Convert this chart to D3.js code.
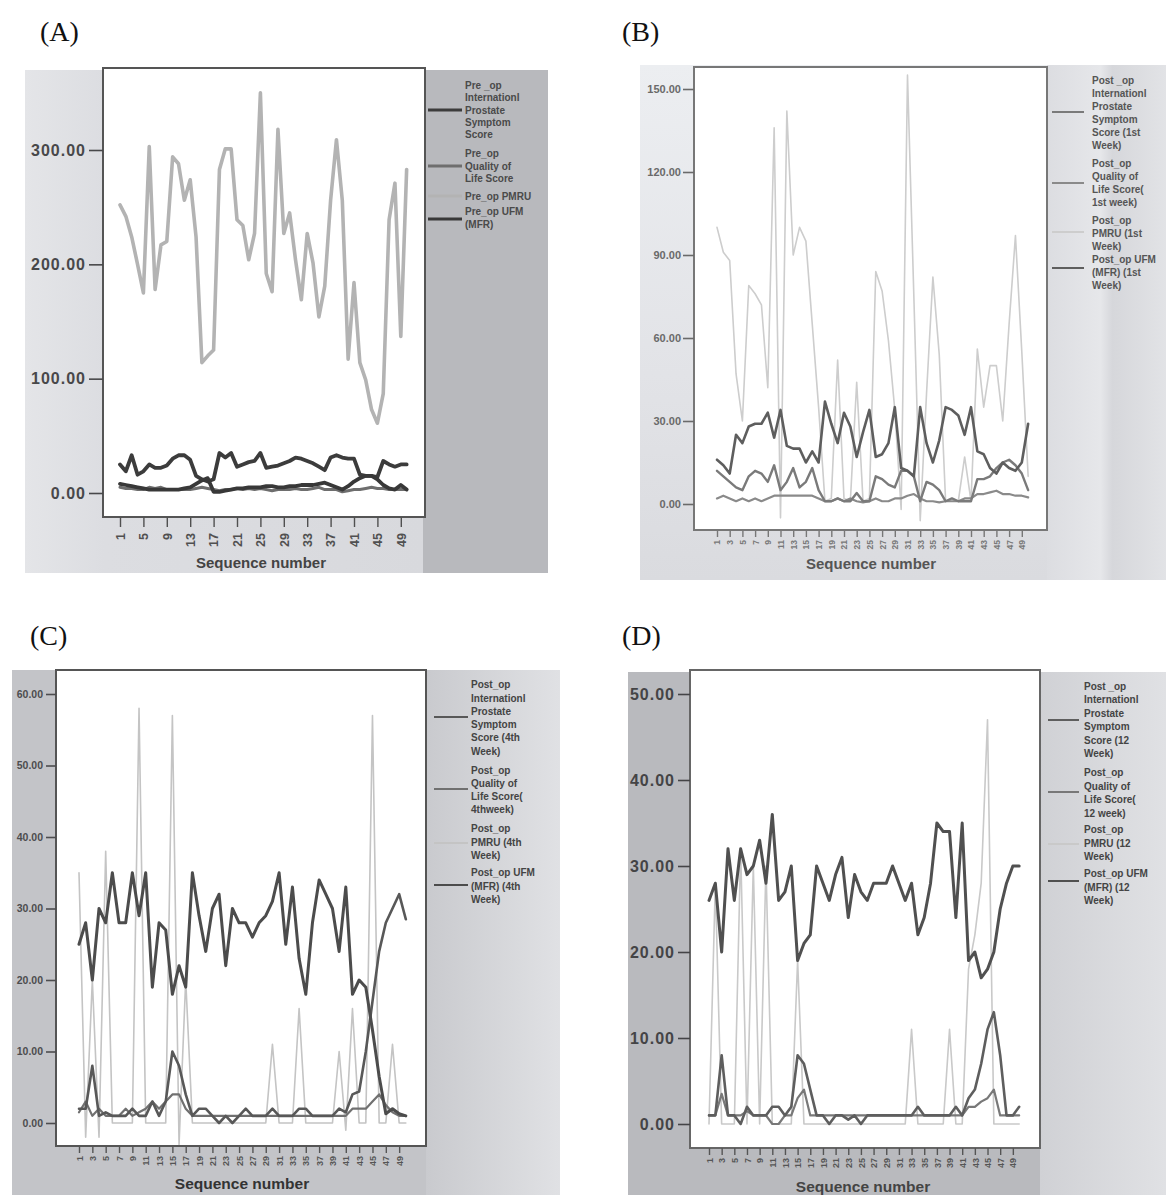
<!DOCTYPE html>
<html>
<head>
<meta charset="utf-8">
<script src="https://cdn.jsdelivr.net/npm/d3@7"></script>
<style>
  html, body { margin: 0; padding: 0; background: #fff; }
  svg { display: block; }
  text { font-family: "Liberation Sans", Arial, sans-serif; }
</style>
</head>
<body>
<svg id="chart" width="1166" height="1195"></svg>
<script>
// ---- shared categories and tick labels ----
const sequence = [1,2,3,4,5,6,7,8,9,10,11,12,13,14,15,16,17,18,19,20,21,22,23,24,25,
                  26,27,28,29,30,31,32,33,34,35,36,37,38,39,40,41,42,43,44,45,46,47,48,49,50];
const xTicksEvery4 = [1,5,9,13,17,21,25,29,33,37,41,45,49];
const xTicksEvery2 = [1,3,5,7,9,11,13,15,17,19,21,23,25,27,29,31,33,35,37,39,41,43,45,47,49];
const yTicksA = [0,100,200,300];
const yTicksB = [0,30,60,90,120,150];
const yTicksC = [0,10,20,30,40,50,60];
const yTicksD = [0,10,20,30,40,50];

// ---- (A) pre-operative ----
const ipssA = [25,19,33,16,19,25,22,22,24,30,33,33,29,15,12,10,12,35,31,35,23,25,27,28,35,22,23,24,26,28,31,30,28,26,23,20,31,33,31,30,30,16,15,15,14,28,25,23,25,25];
const qolA  = [5,4,4,3,3,5,4,5,3,3,3,3,3,4,5,4,3,2,3,3,4,3,4,3,4,3,2,3,3,3,4,3,3,4,5,3,3,3,1,2,3,3,4,5,4,4,3,3,3,3];
const pmruA = [252,242,224,200,175,303,178,217,220,294,288,256,274,224,114,120,125,283,301,301,239,234,204,227,350,192,176,318,227,245,204,169,227,201,154,181,256,309,256,117,184,114,99,73,61,87,239,271,137,283];
const ufmA  = [8,7,6,5,4,3,3,3,3,3,3,4,5,8,11,13,1,1,2,3,4,4,5,5,5,6,6,5,5,6,6,7,7,7,8,9,7,5,3,6,10,13,15,15,12,7,4,3,7,3];

// ---- (B) post-operative, 1st week ----
const ipssB = [12,10,8,6,5,10,12,11,8,14,5,8,13,6,8,13,5,1,1,2,1,1,4,1,1,10,9,7,6,12,12,10,1,8,7,5,1,2,1,1,1,9,9,10,13,15,16,14,11,5];
const qolB  = [2,3,2,1,2,1,2,1,2,3,3,3,3,3,3,3,2,1,1,2,1,2,1,0.6,1,2,1,1,2,2,3,3.6,2,1,1,0.6,1,1,1,2,2,3.6,3.6,4.2,4.8,3.6,3.6,3,3,2.4];
const pmruB = [100,91,88,47,30,79,76,72,42,136,-5,142,90,100,95,65,35,1,2,52,2,1,44,1,2,84,77,59,34,-2,155,75,-6,40,82,54,1,1,1,17,1,56,35,50,50,30,65,97,55,10];
const ufmB  = [16,14,11,25,22,28,29,29,33,24,34,21,20,20,15,19,15,37,29,22,33,28,17,26,34,17,18,22,35,13,12,10,35,22,15,23,35,34,32,25,35,19,18,13,11,15,13,12,15,29];

// ---- (C) post-operative, 4th week ----
const ipssC = [2,2,8,1,1.5,1,1,1,2,1,1,3,1,3,10,8,4,1,2,2,1,0,1,0,1,2,1,1,1,2,1,1,1,2,2,1,1,1,1,2,1.5,4,4.4,10,17,24,28,30,32,28.5];
const qolC  = [1.5,3,1,2,1,1,1,2,1,1.5,2,3,2,3,4,4,2,1,1,1,1,1,1,1,1,1,1,1,1,1,1,1,1,1,1,1,1,1,1,1,1,2,2,2,3,4,2.5,1.5,1,1];
const pmruC = [35,-2,20,-2,38,0,0,0,0,58,0,0,0,0,57,-3,20,0,0,0,0,0,0,0,0,0,0,0,0,11,0,0,0,16,0,0,0,0,0,10,-1,16,0,0,57,0,0,11,0,0];
const ufmC  = [25,28,20,30,28,35,28,28,35,29,35,19,28,27,18,22,19,35,29,24,30,32,22,30,28,28,26,28,29,31,35,25,33,23,18,28,34,32,30,24,33,18,20,19,13,6.5,1.3,2,1.3,1];

// ---- (D) post-operative, 12th week ----
const ipssD = [1,1,8,1,1,0,2,1,1,1,2,2,1,2,8,7,4,1,1,0,1,1,0.5,1,0,1,1,1,1,1,1,1,1,2,1,1,1,1,1,2,1,3,4,7,11,13,8,1,1,2];
const qolD  = [1,1,3.5,1,1,1,1.5,1,1,1,0,0,1,1,3,4,1,1,1,1,1,1,1,1,1,1,1,1,1,1,1,1,1,1,1,1,1,1,1,1,1,2,2,2.6,3,4,1,1,1,1];
const pmruD = [0,28,0,0,0,32,0,30,0,30,0,0,0,0,19,0,0,0,0,0,0,0,0,0,0,0,0,0,0,0,0,0,11,0,0,0,0,0,11,0,0,18,22,28,47,0,0,0,0,0];
const ufmD  = [26,28,20,32,26,32,29,30,33,28,36,26,27,30,19,21,22,30,28,26,29,31,24,29,27,26,28,28,28,30,28,26,28,22,24,28,35,34,34,24,35,19,20,17,18,20,25,28,30,30];

// ---- legend labels (IPSS, QoL, PMRU, UFM) ----
const legendA = [
  ["Pre _op","Internationl","Prostate","Symptom","Score"],
  ["Pre_op","Quality of","Life Score"],
  ["Pre_op PMRU"],
  ["Pre_op UFM","(MFR)"]
];
const legendB = [
  ["Post _op","Internationl","Prostate","Symptom","Score (1st","Week)"],
  ["Post_op","Quality of","Life Score(","1st week)"],
  ["Post_op","PMRU (1st","Week)"],
  ["Post_op UFM","(MFR) (1st","Week)"]
];
const legendC = [
  ["Post_op","Internationl","Prostate","Symptom","Score (4th","Week)"],
  ["Post_op","Quality of","Life Score(","4thweek)"],
  ["Post_op","PMRU (4th","Week)"],
  ["Post_op UFM","(MFR) (4th","Week)"]
];
const legendD = [
  ["Post _op","Internationl","Prostate","Symptom","Score (12","Week)"],
  ["Post_op","Quality of","Life Score(","12 week)"],
  ["Post_op","PMRU (12","Week)"],
  ["Post_op UFM","(MFR) (12","Week)"]
];
const xAxisTitle = "Sequence number";

// ---- panel layout ----
const panels = [
  {
    id: "A", title: "(A)", titleX: 40, titleY: 41,
    bgs: [
      {x: 25, y: 70, w: 398, h: 503, fill: "url(#bgA)"},
      {x: 423, y: 70, w: 125, h: 503, fill: "#b8b9bd"}
    ],
    frame: {x: 103, y: 68, w: 322, h: 449, stroke: "#555", sw: 2},
    xRange: [120, 406.65], yDomain: [0, 300], yRange: [493, 150],
    yTicks: yTicksA, xTicks: xTicksEvery4,
    yAxis: {size: 14, pad: 3, font: 16, color: "#48484a", ls: 1},
    xAxis: {size: 10, pad: 6, font: 12.5, color: "#505050"},
    xLabel: {x: 261, y: 568, font: 15, color: "#444"},
    series: [
      {v: pmruA, c: "#b3b3b3", w: 3.6},
      {v: qolA,  c: "#6e6e6e", w: 3},
      {v: ipssA, c: "#3c3c3c", w: 3.8},
      {v: ufmA,  c: "#383838", w: 3.8}
    ],
    legend: {x0: 428, x1: 462, tx: 465, lh: 12.3, font: 10, color: "#4a4a4a", lw: 3,
      labels: legendA, ys: [110, 166, 196, 218], lineYs: [110, 166, 196, 219],
      colors: ["#3c3c3c", "#6e6e6e", "#b3b3b3", "#383838"]}
  },
  {
    id: "B", title: "(B)", titleX: 622, titleY: 41,
    bgs: [
      {x: 640, y: 65, w: 407, h: 515, fill: "url(#bgB)"},
      {x: 1047, y: 65, w: 119, h: 515, fill: "url(#bgBl)"}
    ],
    frame: {x: 694, y: 67, w: 353, h: 463, stroke: "#777", sw: 2},
    xRange: [717, 1028.15], yDomain: [0, 150], yRange: [504, 89],
    yTicks: yTicksB, xTicks: xTicksEvery2,
    yAxis: {size: 11, pad: 2, font: 11, color: "#6a6a6a", ls: 0},
    xAxis: {size: 7, pad: 3, font: 8.5, color: "#777"},
    xLabel: {x: 871, y: 569, font: 15, color: "#555"},
    series: [
      {v: pmruB, c: "#cdcdcd", w: 1.6},
      {v: qolB,  c: "#8a8a8a", w: 2.2},
      {v: ipssB, c: "#7a7a7a", w: 2.4},
      {v: ufmB,  c: "#5e5e5e", w: 2.6}
    ],
    legend: {x0: 1052, x1: 1084, tx: 1092, lh: 13, font: 10, color: "#555", lw: 2,
      labels: legendB, ys: [113, 183, 233, 272], lineYs: [112, 183, 232, 268],
      colors: ["#7a7a7a", "#8a8a8a", "#cdcdcd", "#5e5e5e"]}
  },
  {
    id: "C", title: "(C)", titleX: 30, titleY: 645,
    bgs: [
      {x: 12, y: 670, w: 414, h: 525, fill: "#c3c4c8"},
      {x: 426, y: 670, w: 134, h: 525, fill: "url(#bgCl)"}
    ],
    frame: {x: 56, y: 670, w: 370, h: 476, stroke: "#555", sw: 2},
    xRange: [79, 405.83], yDomain: [0, 60], yRange: [1123, 694],
    yTicks: yTicksC, xTicks: xTicksEvery2,
    yAxis: {size: 10, pad: 3, font: 10.5, color: "#4d4d4f", ls: 0},
    xAxis: {size: 7, pad: 3, font: 9, color: "#555"},
    xLabel: {x: 242, y: 1189, font: 15.5, color: "#333"},
    series: [
      {v: pmruC, c: "#c4c4c4", w: 1.6},
      {v: qolC,  c: "#707070", w: 2.2},
      {v: ipssC, c: "#585858", w: 2.6},
      {v: ufmC,  c: "#4c4c4c", w: 3}
    ],
    legend: {x0: 434, x1: 468, tx: 471, lh: 13.3, font: 10, color: "#444", lw: 2,
      labels: legendC, ys: [718, 790, 842, 886], lineYs: [717, 789, 843, 885],
      colors: ["#585858", "#707070", "#c4c4c4", "#4c4c4c"]}
  },
  {
    id: "D", title: "(D)", titleX: 622, titleY: 645,
    bgs: [
      {x: 628, y: 672, w: 412, h: 523, fill: "#b9babe"},
      {x: 1040, y: 672, w: 126, h: 523, fill: "url(#bgDl)"}
    ],
    frame: {x: 690, y: 670, w: 350, h: 478, stroke: "#666", sw: 2},
    xRange: [709, 1019.17], yDomain: [0, 50], yRange: [1124, 694],
    yTicks: yTicksD, xTicks: xTicksEvery2,
    yAxis: {size: 12, pad: 3, font: 16, color: "#444446", ls: 1},
    xAxis: {size: 7, pad: 3, font: 9, color: "#555"},
    xLabel: {x: 863, y: 1192, font: 15.5, color: "#444"},
    series: [
      {v: pmruD, c: "#c9c9c9", w: 1.6},
      {v: qolD,  c: "#787878", w: 2.2},
      {v: ipssD, c: "#5e5e5e", w: 2.6},
      {v: ufmD,  c: "#505050", w: 3}
    ],
    legend: {x0: 1048, x1: 1079, tx: 1084, lh: 13.4, font: 10, color: "#444", lw: 2,
      labels: legendD, ys: [720, 793, 843, 887], lineYs: [720, 792, 844, 881],
      colors: ["#5e5e5e", "#787878", "#c9c9c9", "#505050"]}
  }
];

const svg = d3.select("#chart");
svg.append("rect").attr("width", 1166).attr("height", 1195).attr("fill", "#fff");

// background gradients
const defs = svg.append("defs");
function addGrad(id, stops, vertical) {
  const g = defs.append("linearGradient").attr("id", id)
    .attr("x1", 0).attr("y1", 0).attr("x2", vertical ? 0 : 1).attr("y2", vertical ? 1 : 0);
  stops.forEach(([o, c]) => g.append("stop").attr("offset", o).attr("stop-color", c));
}
addGrad("bgA", [[0, "#e4e5e8"], [0.2, "#dcdde1"], [1, "#d8d9dd"]]);
addGrad("bgB", [[0, "#eceef1"], [0.6, "#e2e3e7"], [1, "#dadbdf"]], true);
addGrad("bgBl", [[0, "#dcdde1"], [0.45, "#e6e7ea"], [0.55, "#d6d7db"], [1, "#e2e3e6"]]);
addGrad("bgCl", [[0, "#c9cace"], [1, "#e0e1e4"]]);
addGrad("bgDl", [[0, "#d0d1d5"], [1, "#e0e1e4"]]);

panels.forEach(p => {
  const g = svg.append("g").attr("class", "panel-" + p.id);

  p.bgs.forEach(b => g.append("rect")
    .attr("x", b.x).attr("y", b.y).attr("width", b.w).attr("height", b.h).attr("fill", b.fill));

  g.append("rect")
    .attr("x", p.frame.x).attr("y", p.frame.y)
    .attr("width", p.frame.w).attr("height", p.frame.h)
    .attr("fill", "#fff");

  const x = d3.scaleLinear().domain([sequence[0], sequence[sequence.length - 1]]).range(p.xRange);
  const y = d3.scaleLinear().domain(p.yDomain).range(p.yRange);

  // series lines, clipped to the plotting frame
  const clipId = "clip" + p.id;
  defs.append("clipPath").attr("id", clipId).append("rect")
    .attr("x", p.frame.x).attr("y", p.frame.y).attr("width", p.frame.w).attr("height", p.frame.h);
  const line = d3.line().x((d, i) => x(sequence[i])).y(d => y(d));
  const lines = g.append("g").attr("clip-path", `url(#${clipId})`);
  p.series.forEach(s => lines.append("path")
    .attr("d", line(s.v))
    .attr("fill", "none")
    .attr("stroke", s.c)
    .attr("stroke-width", s.w)
    .attr("stroke-linejoin", "round")
    .attr("stroke-linecap", "round"));

  g.append("rect")
    .attr("x", p.frame.x).attr("y", p.frame.y)
    .attr("width", p.frame.w).attr("height", p.frame.h)
    .attr("fill", "none").attr("stroke", p.frame.stroke).attr("stroke-width", p.frame.sw);

  // y axis
  const ya = g.append("g").attr("transform", `translate(${p.frame.x},0)`)
    .call(d3.axisLeft(y).tickValues(p.yTicks).tickFormat(d3.format(".2f"))
      .tickSize(p.yAxis.size).tickPadding(p.yAxis.pad));
  ya.select(".domain").remove();
  ya.selectAll("line").attr("stroke", p.yAxis.color).attr("stroke-width", 1.6);
  ya.selectAll("text")
    .attr("fill", p.yAxis.color)
    .style("font-size", p.yAxis.font + "px")
    .style("font-weight", "bold")
    .style("letter-spacing", p.yAxis.ls + "px");

  // x axis with vertical labels
  const fb = p.frame.y + p.frame.h;
  const xa = g.append("g").attr("transform", `translate(0,${fb})`)
    .call(d3.axisBottom(x).tickValues(p.xTicks).tickFormat(d3.format("d"))
      .tickSize(p.xAxis.size).tickPadding(p.xAxis.pad));
  xa.select(".domain").remove();
  xa.selectAll("line").attr("stroke", p.xAxis.color).attr("stroke-width", 1.4);
  xa.selectAll("text")
    .attr("transform", "rotate(-90)")
    .attr("x", -(p.xAxis.size + p.xAxis.pad))
    .attr("y", 0)
    .attr("dy", "0.35em")
    .style("text-anchor", "end")
    .attr("fill", p.xAxis.color)
    .style("font-size", p.xAxis.font + "px")
    .style("font-weight", "bold");

  g.append("text")
    .attr("x", p.xLabel.x).attr("y", p.xLabel.y)
    .attr("text-anchor", "middle")
    .attr("fill", p.xLabel.color)
    .style("font-size", p.xLabel.font + "px")
    .style("font-weight", "bold")
    .text(xAxisTitle);

  // legend
  const L = p.legend;
  L.labels.forEach((lbl, k) => {
    const ly = L.lineYs[k];
    g.append("line")
      .attr("x1", L.x0).attr("x2", L.x1).attr("y1", ly).attr("y2", ly)
      .attr("stroke", L.colors[k]).attr("stroke-width", L.lw);
    const top = L.ys[k] - (lbl.length - 1) / 2 * L.lh;
    lbl.forEach((t, j) => g.append("text")
      .attr("x", L.tx).attr("y", top + j * L.lh)
      .attr("dy", "0.35em")
      .attr("fill", L.color)
      .style("font-size", L.font + "px")
      .style("font-weight", "bold")
      .text(t));
  });

  // panel letter
  svg.append("text")
    .attr("x", p.titleX).attr("y", p.titleY)
    .attr("fill", "#111")
    .style("font-family", "'Liberation Serif', 'Times New Roman', serif")
    .style("font-size", "28px")
    .text(p.title);
});
</script>
</body>
</html>
